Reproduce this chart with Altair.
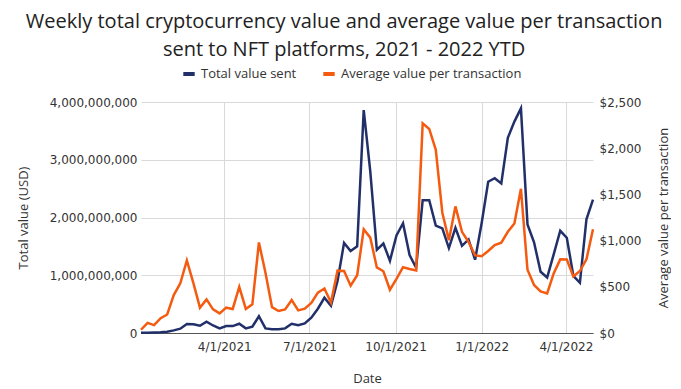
import altair as alt
import pandas as pd

# Weekly data, first week starting 2021-01-02, 70 weeks
start_date = "2021-01-02"
total_value_billion = [
    0.005, 0.006, 0.008, 0.012, 0.02, 0.045, 0.075, 0.155, 0.15, 0.125,
    0.195, 0.13, 0.08, 0.12, 0.12, 0.16, 0.08, 0.11, 0.29, 0.08,
    0.065, 0.065, 0.08, 0.16, 0.135, 0.165, 0.265, 0.42, 0.61, 0.47,
    0.9, 1.56, 1.42, 1.50, 3.86, 2.8, 1.44, 1.55, 1.25, 1.69,
    1.90, 1.35, 1.13, 2.30, 2.30, 1.86, 1.81, 1.47, 1.82, 1.51,
    1.62, 1.27, 1.90, 2.62, 2.68, 2.59, 3.38, 3.66, 3.89, 1.88,
    1.57, 1.06, 0.96, 1.36, 1.77, 1.65, 0.99, 0.87, 1.97, 2.31,
]
avg_value_usd = [
    35, 110, 85, 160, 200, 410, 537, 785, 540, 274,
    364, 256, 212, 274, 260, 498, 260, 310, 980, 653,
    280, 238, 256, 357, 245, 263, 325, 437, 482, 330,
    675, 671, 512, 625, 1122, 1032, 710, 668, 468, 585,
    712, 693, 678, 2269, 2208, 1982, 1302, 1005, 1370, 1095,
    985, 840, 830, 888, 951, 978, 1095, 1185, 1560, 684,
    520, 450, 429, 645, 797, 795, 613, 671, 797, 1122,
]
series_names = ["Total value sent", "Average value per transaction"]
series_colors = ["#22306a", "#f45b10"]
left_ticks = [0, 1e9, 2e9, 3e9, 4e9]
right_ticks = [0, 500, 1000, 1500, 2000, 2500]
x_tick_dates = [(2021, 4, 1), (2021, 7, 1), (2021, 10, 1), (2022, 1, 1), (2022, 4, 1)]

dates = pd.date_range(start_date, periods=len(total_value_billion), freq="7D")
df = pd.DataFrame({
    "date": dates,
    "total": [v * 1e9 for v in total_value_billion],
    "avg": avg_value_usd,
})

FONT = "Open Sans"
LABEL_FONT = "DejaVu Sans"
TXT = "#333333"

color_scale = alt.Scale(domain=series_names, range=series_colors)
legend = alt.Legend(
    orient="none", legendX=40, legendY=-36, direction="horizontal", title=None,
    symbolType="stroke", symbolSize=130, symbolStrokeWidth=4,
    labelFontSize=13, labelFont=FONT, labelColor=TXT, columnPadding=18,
    labelLimit=400,
)

x_enc = alt.X(
    "date:T",
    scale=alt.Scale(type="utc", domain=[dates[0].isoformat(), dates[-1].isoformat()]),
    axis=alt.Axis(
        title="Date",
        format="%-m/%-d/%Y",
        values=[alt.DateTime(year=y, month=m, date=d, utc=True) for (y, m, d) in x_tick_dates],
        grid=True, ticks=False, labelPadding=8, titlePadding=20,
        domainColor="#555555",
    ),
)

base = alt.Chart(df)

left = base.mark_line(strokeWidth=2.5).transform_calculate(
    series="'Total value sent'"
).encode(
    x=x_enc,
    y=alt.Y(
        "total:Q",
        scale=alt.Scale(domain=[0, 4e9]),
        axis=alt.Axis(
            title="Total value (USD)", orient="left", values=left_ticks,
            format=",.0f", grid=True, ticks=False, domain=False, labelPadding=4,
            titlePadding=19,
        ),
    ),
    color=alt.Color("series:N", scale=color_scale, legend=legend),
)

right = base.mark_line(strokeWidth=2.5).transform_calculate(
    series="'Average value per transaction'"
).encode(
    x=x_enc,
    y=alt.Y(
        "avg:Q",
        scale=alt.Scale(domain=[0, 2500]),
        axis=alt.Axis(
            title="Average value per transaction", orient="right", values=right_ticks,
            format="$,.0f", grid=False, ticks=False, domain=False, labelPadding=6,
            titlePadding=30, titleAngle=270,
        ),
    ),
    color=alt.Color("series:N", scale=color_scale, legend=legend),
)

chart = alt.layer(left, right).resolve_scale(y="independent").properties(
    width=452, height=231,
    title=alt.TitleParams(
        ["Weekly total cryptocurrency value and average value per transaction",
         "sent to NFT platforms, 2021 - 2022 YTD"],
        font=FONT, fontSize=20, fontWeight="normal", color="#222222",
        anchor="middle", frame="bounds", lineHeight=28, offset=6,
    ),
    padding={"left": 9, "right": 0, "top": 4, "bottom": 5},
).configure_view(stroke=None).configure_axis(
    labelFont=LABEL_FONT, titleFont=FONT, labelFontSize=12, titleFontSize=13,
    labelColor=TXT, titleColor=TXT, titleFontWeight="normal",
    gridColor="#d9d9d9", gridWidth=1,
)

chart.save("out.html", embed_options={"renderer": "svg", "actions": False})
